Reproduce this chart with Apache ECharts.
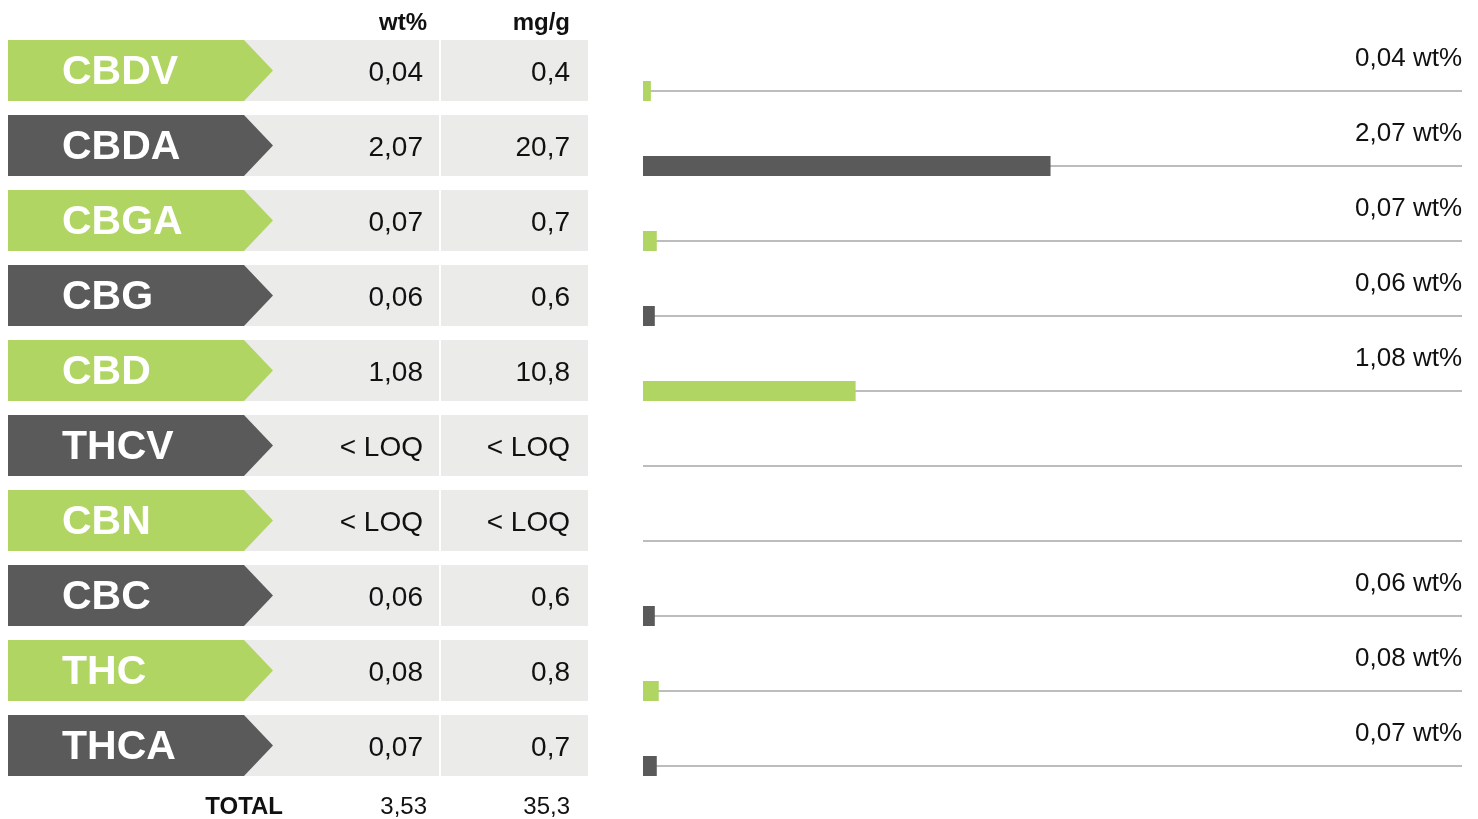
<!DOCTYPE html>
<html>
<head>
<meta charset="utf-8">
<script src="https://cdn.jsdelivr.net/npm/echarts@6/dist/echarts.min.js"></script>
<style>
html,body{margin:0;padding:0;background:#fff;}
#chart{width:1478px;height:819px;}
</style>
</head>
<body>
<div id="chart"></div>
<script>
const cannabinoids = ['CBDV','CBDA','CBGA','CBG','CBD','THCV','CBN','CBC','THC','THCA'];
const wtPercent = [0.04, 2.07, 0.07, 0.06, 1.08, null, null, 0.06, 0.08, 0.07];
const mgPerG = [0.4, 20.7, 0.7, 0.6, 10.8, null, null, 0.6, 0.8, 0.7];
const columnHeaders = ['wt%', 'mg/g'];
const totalLabel = 'TOTAL';
const totalWt = 3.53;
const totalMg = 35.3;
const loqText = '< LOQ';
const unitSuffix = ' wt%';

const GREEN = '#b0d563';
const DARK = '#5a5a5a';
const xMax = 4.16;
const FONT = '"Liberation Sans", Arial, Helvetica, sans-serif';

function fmt(v) { return v == null ? loqText : String(v).replace('.', ','); }
function rowColor(i) { return i % 2 === 0 ? GREEN : DARK; }

const chart = echarts.init(document.getElementById('chart'), null, {renderer: 'canvas'});

const option = {
  animation: false,
  backgroundColor: '#ffffff',
  grid: [
    {left: 643, right: 16, top: 53.5, bottom: 15.5},
    {left: 8, width: 580, top: 33, bottom: 36}
  ],
  xAxis: [
    {gridIndex: 0, type: 'value', min: 0, max: xMax, show: false},
    {gridIndex: 1, type: 'value', min: 0, max: 580, show: false}
  ],
  yAxis: [
    {gridIndex: 0, type: 'category', inverse: true, data: cannabinoids, show: false},
    {gridIndex: 0, type: 'category', inverse: true, data: cannabinoids, show: false},
    {gridIndex: 1, type: 'category', inverse: true, data: cannabinoids, show: false}
  ],
  series: [
    {
      name: 'track', type: 'bar', xAxisIndex: 0, yAxisIndex: 1,
      data: cannabinoids.map(() => xMax),
      barWidth: 2, z: 1, silent: true,
      itemStyle: {color: '#bdbdbd'},
      label: {
        show: true,
        position: ['100%', -31],
        align: 'right', verticalAlign: 'middle',
        fontFamily: FONT, fontSize: 26, color: '#111',
        formatter: p => wtPercent[p.dataIndex] == null ? '' : fmt(wtPercent[p.dataIndex]) + unitSuffix
      }
    },
    {
      name: 'wt%', type: 'bar', xAxisIndex: 0, yAxisIndex: 0,
      data: wtPercent.map((v, i) => ({value: v, itemStyle: {color: rowColor(i)}})),
      barWidth: 20, z: 3
    },
    {
      name: 'table', type: 'custom', xAxisIndex: 1, yAxisIndex: 2,
      clip: false, z: 2,
      encode: {x: 0, y: 1},
      data: cannabinoids.map((c, i) => [0, i]),
      renderItem: function (params, api) {
        const i = api.value(1);
        const c0 = api.coord([0, i]);
        const X = u => api.coord([u, i])[0];
        const cy = c0[1];
        const h = 61;
        const top = cy - h / 2, bot = cy + h / 2;
        return {
          type: 'group',
          children: [
            {type: 'rect', shape: {x: X(0), y: top, width: X(580) - X(0), height: h}, style: {fill: '#ebebea'}},
            {type: 'rect', shape: {x: X(431), y: top, width: 2, height: h}, style: {fill: '#ffffff'}},
            {type: 'polygon', shape: {points: [[X(0), top], [X(236), top], [X(265), cy], [X(236), bot], [X(0), bot]]}, style: {fill: rowColor(i)}},
            {type: 'text', style: {x: X(54), y: cy + 2, text: cannabinoids[i], fill: '#ffffff', font: 'bold 41px ' + FONT, align: 'left', verticalAlign: 'middle'}},
            {type: 'text', style: {x: X(415), y: cy + 3, text: fmt(wtPercent[i]), fill: '#111', font: '28px ' + FONT, align: 'right', verticalAlign: 'middle'}},
            {type: 'text', style: {x: X(562), y: cy + 3, text: fmt(mgPerG[i]), fill: '#111', font: '28px ' + FONT, align: 'right', verticalAlign: 'middle'}}
          ]
        };
      }
    }
  ],
  graphic: [
    {type: 'text', style: {x: 427, y: 23, text: columnHeaders[0], fill: '#111', font: 'bold 24px ' + FONT, align: 'right', verticalAlign: 'middle'}},
    {type: 'text', style: {x: 570, y: 23, text: columnHeaders[1], fill: '#111', font: 'bold 24px ' + FONT, align: 'right', verticalAlign: 'middle'}},
    {type: 'text', style: {x: 283, y: 807, text: totalLabel, fill: '#111', font: 'bold 24px ' + FONT, align: 'right', verticalAlign: 'middle'}},
    {type: 'text', style: {x: 427, y: 807, text: fmt(totalWt), fill: '#111', font: '24px ' + FONT, align: 'right', verticalAlign: 'middle'}},
    {type: 'text', style: {x: 570, y: 807, text: fmt(totalMg), fill: '#111', font: '24px ' + FONT, align: 'right', verticalAlign: 'middle'}}
  ]
};
chart.setOption(option);
</script>
</body>
</html>
